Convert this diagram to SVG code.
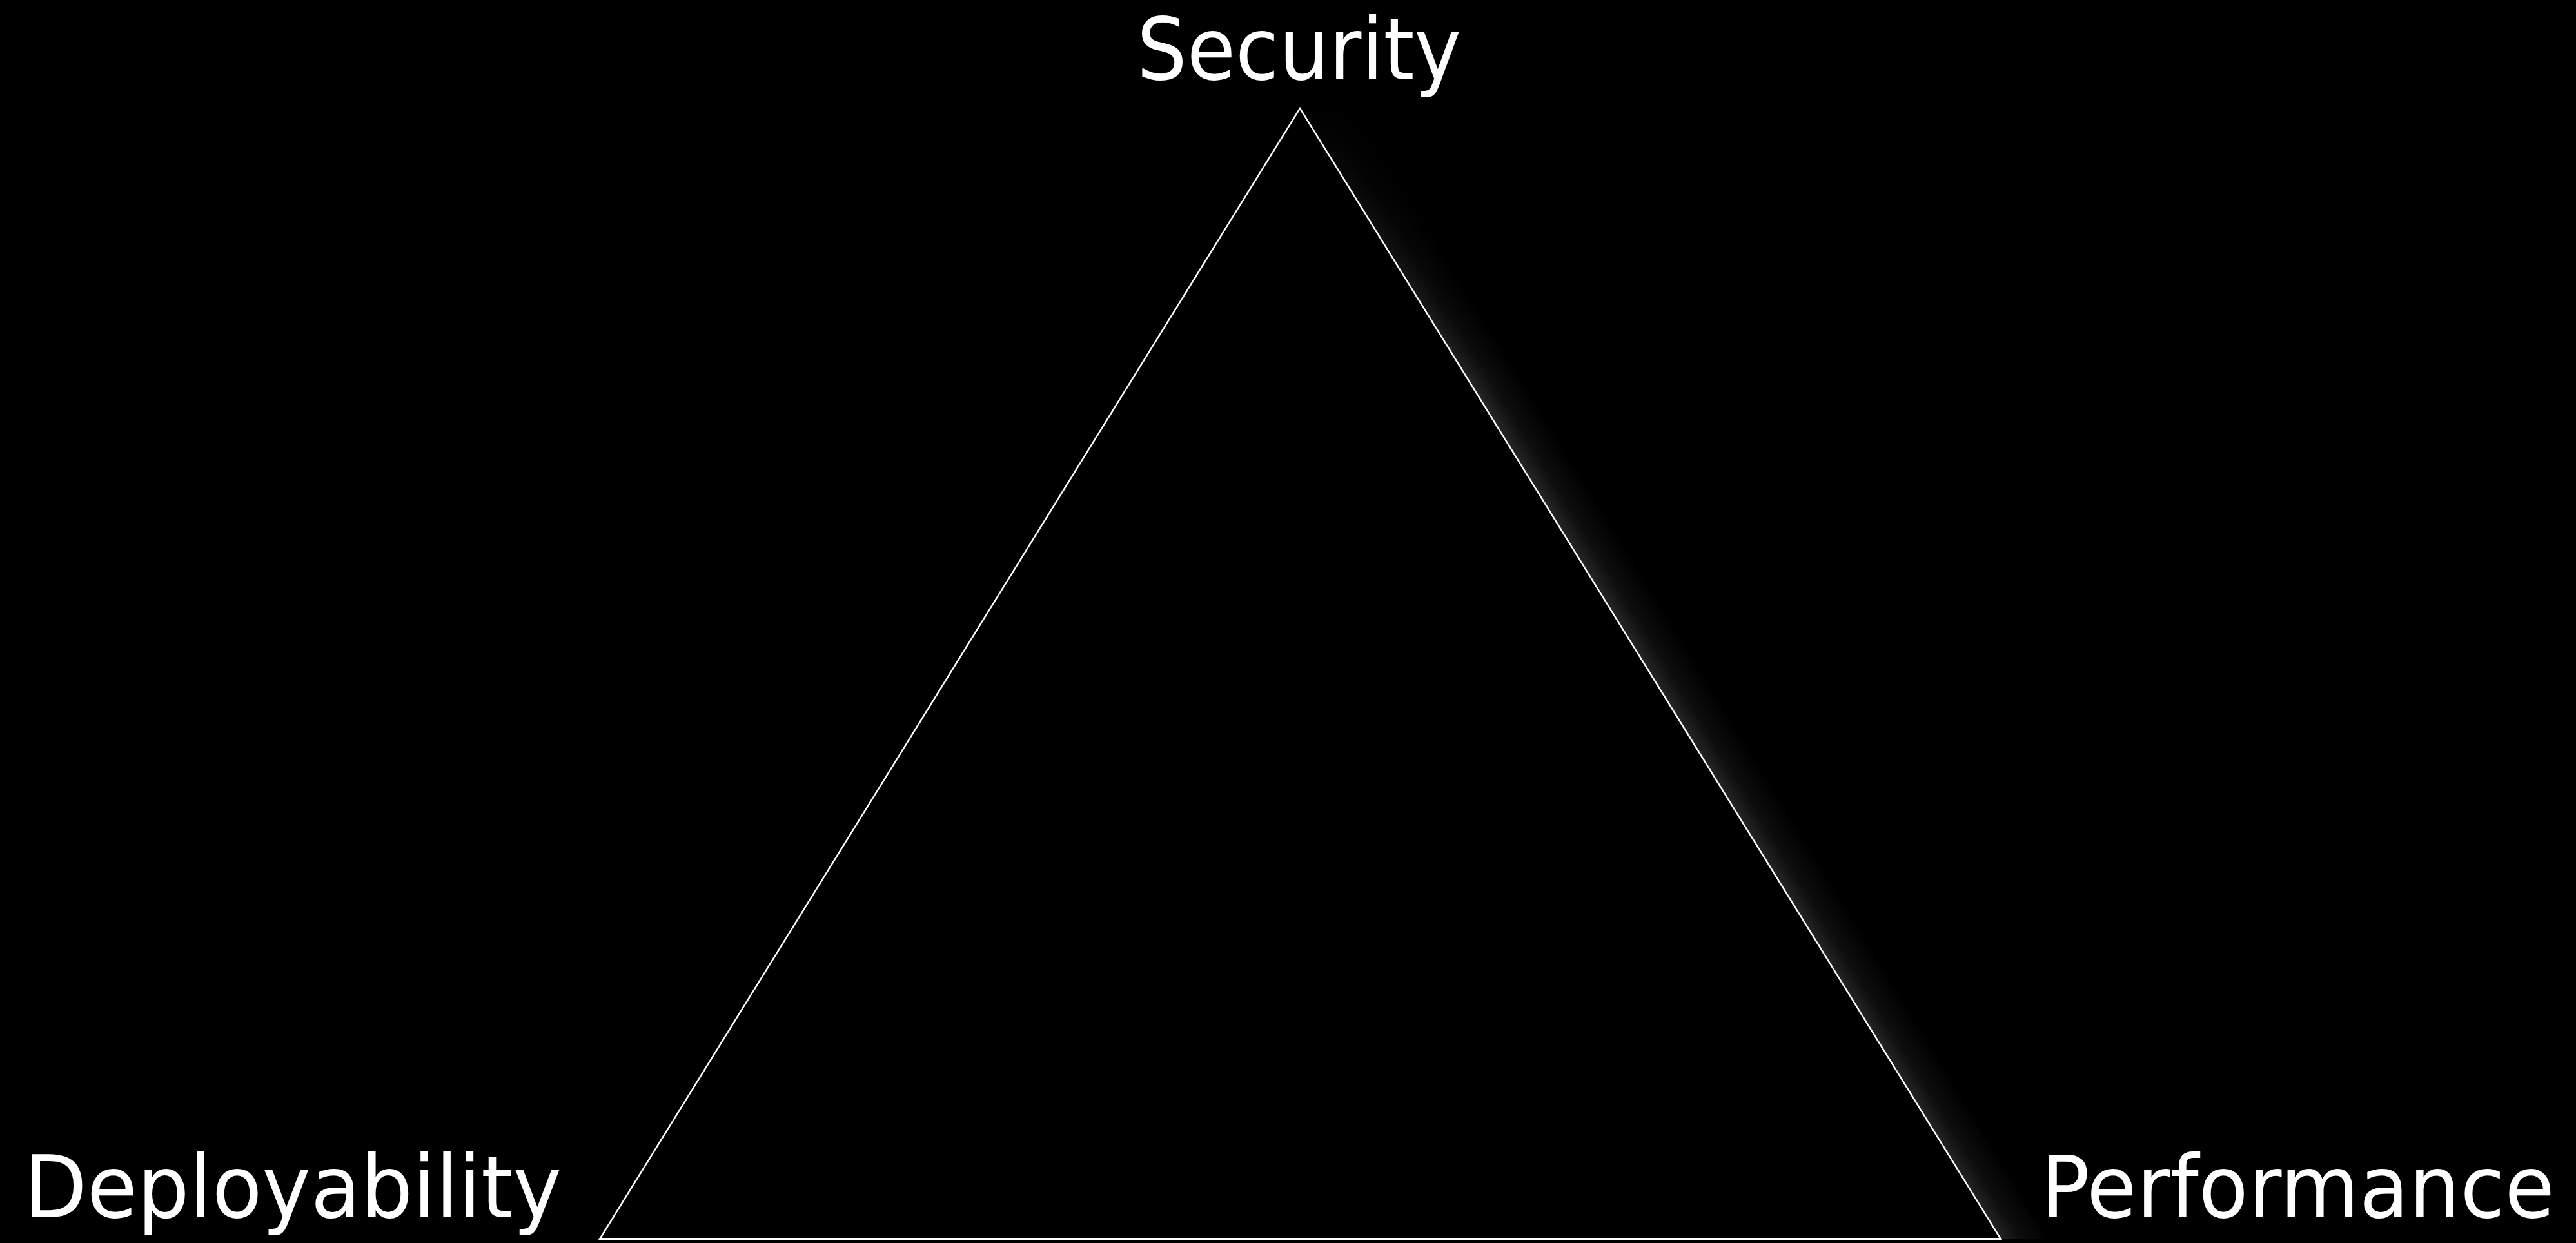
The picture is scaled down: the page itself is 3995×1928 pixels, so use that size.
<svg xmlns="http://www.w3.org/2000/svg" width="3995" height="1928" viewBox="0 0 3995 1928">
<defs>
<style>
.lbl{font-family:"DejaVu Sans","Liberation Sans",sans-serif;font-size:133px;fill:#ffffff}
.edge{fill:none;stroke:#ffffff;stroke-width:2.5;stroke-linejoin:miter}
</style>
<linearGradient id="glow" gradientUnits="userSpaceOnUse" x1="2559" y1="1045" x2="2619" y2="1008">
<stop offset="0" stop-color="#262626"/>
<stop offset="0.4" stop-color="#0e0e0e"/>
<stop offset="1" stop-color="#000000"/>
</linearGradient>
<linearGradient id="fade" gradientUnits="userSpaceOnUse" x1="2016" y1="168" x2="2300" y2="640">
<stop offset="0" stop-color="#000" stop-opacity="1"/>
<stop offset="1" stop-color="#000" stop-opacity="0"/>
</linearGradient>
</defs>
<rect width="3995" height="1928" fill="#000000"/>
<g id="shadow">
<polygon points="2016,168 2086,126 3173,1922 3103,1922" fill="url(#glow)"/>
<polygon points="2016,168 2086,126 2340,544 2270,586" fill="url(#fade)"/>
</g>
<g id="triangle">
<polygon class="edge" points="2016,168 3103,1922 930,1922"/>
</g>
<g id="security"><text class="lbl" x="1763" y="123" textLength="503" lengthAdjust="spacingAndGlyphs">Security</text></g>
<g id="deployability"><text class="lbl" x="37" y="1888" textLength="834" lengthAdjust="spacingAndGlyphs">Deployability</text></g>
<g id="performance"><text class="lbl" x="3165" y="1888" textLength="797" lengthAdjust="spacingAndGlyphs">Performance</text></g>
<g id="connectors"></g>
</svg>
